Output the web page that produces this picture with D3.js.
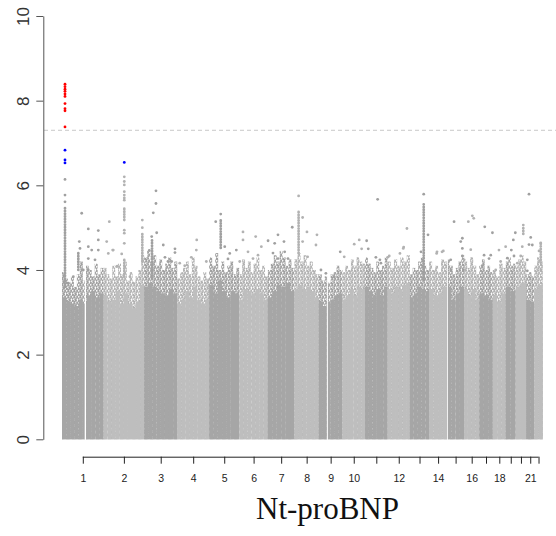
<!DOCTYPE html>
<html>
<head>
<meta charset="utf-8">
<script src="https://cdn.jsdelivr.net/npm/d3@7"></script>
<style>
  html, body { margin: 0; padding: 0; background: #fff; }
  svg { display: block; }
</style>
</head>
<body>
<svg id="chart" width="556" height="536"></svg>
<script>
// Chromosomes and their lengths (Mb, hg19)
const chromosomes = ["1","2","3","4","5","6","7","8","9","10","11","12","13","14","15","16","17","18","19","20","21","22"];
const chromLengthMb = [249.25, 243.2, 198.02, 191.15, 180.92, 171.12, 159.14, 146.36, 141.21, 135.53, 135.01, 133.85, 115.17, 107.35, 102.53, 90.35, 81.2, 78.08, 59.13, 63.03, 48.13, 51.3];
const tickLabels = ["1","2","3","4","5","6","7","8","9","10","","12","","14","","16","","18","","","21",""];
const yTicks = [0, 2, 4, 6, 8, 10];

// Upper edge of the solid bulk of SNPs, evenly spaced bins per chromosome (-log10 p)
const bulkTop = [
  [3.35, 3.25, 3.2, 3.15, 3.3, 3.2, 3.4, 3.5, 3.35, 3.45],
  [3.4, 3.25, 3.3, 3.5, 3.2, 3.45, 3.2, 3.1, 3.25, 3.65],
  [3.6, 3.7, 3.6, 3.5, 3.45, 3.4, 3.55, 3.45],
  [3.2, 3.3, 3.5, 3.35, 3.6, 3.3, 3.2, 3.3],
  [3.65, 3.45, 3.75, 3.5, 3.35, 3.5, 3.45],
  [3.3, 3.55, 3.5, 3.45, 3.55, 3.45, 3.3],
  [3.35, 3.5, 3.65, 3.6, 3.7, 3.5],
  [3.55, 3.65, 3.55, 3.6, 3.5, 3.35],
  [3.25, 3.15, 3.25, 3.3, 3.4, 3.45],
  [3.3, 3.4, 3.55, 3.4, 3.6, 3.55],
  [3.6, 3.5, 3.4, 3.55, 3.4, 3.6],
  [3.55, 3.45, 3.6, 3.55, 3.65, 3.7],
  [3.35, 3.45, 3.6, 3.55, 3.5],
  [3.55, 3.4, 3.45, 3.6],
  [3.6, 3.3, 3.45, 3.6],
  [3.55, 3.4, 3.55, 3.3],
  [3.45, 3.4, 3.3],
  [3.4, 3.25, 3.45],
  [3.6, 3.5],
  [3.6, 3.7],
  [3.3, 3.25],
  [3.55, 3.65]
];

// Upper edge of the looser cloud of SNPs above the bulk, finer bins per chromosome
const cloudTop = [
  [3.95, 3.8, 3.7, 3.85, 3.6, 3.9, 4.2, 3.75, 4.1, 4.0, 3.85, 4.15, 3.9, 4.05],
  [4.05, 3.9, 3.8, 4.1, 3.85, 4.15, 3.9, 4.2, 3.75, 3.95, 3.7, 3.85, 4.0, 4.35],
  [4.3, 4.45, 4.2, 4.35, 4.1, 4.25, 4.0, 4.15, 4.3, 4.05, 4.2],
  [3.8, 3.95, 4.05, 4.2, 3.9, 4.3, 4.1, 3.85, 3.75, 3.95, 3.8],
  [4.3, 4.1, 4.4, 4.0, 4.2, 3.95, 4.1, 4.2, 3.9, 4.05],
  [3.9, 4.25, 4.05, 4.2, 3.95, 4.15, 4.3, 4.0, 4.1, 3.85],
  [4.0, 4.15, 4.35, 4.2, 4.45, 4.3, 4.1, 4.25, 4.05],
  [4.25, 4.4, 4.2, 4.35, 4.1, 4.2, 4.0, 3.9],
  [3.9, 3.75, 3.85, 3.7, 3.9, 3.95, 4.1, 4.0],
  [3.95, 4.1, 4.0, 4.25, 4.1, 4.3, 4.2, 4.15],
  [4.3, 4.15, 4.05, 3.95, 4.2, 4.0, 4.1, 4.3],
  [4.2, 4.05, 4.25, 4.1, 4.3, 4.2, 4.35],
  [3.9, 4.05, 4.0, 4.2, 4.3, 4.1, 4.0],
  [4.2, 4.0, 4.1, 3.95, 4.25, 4.2],
  [4.25, 4.1, 3.9, 4.05, 4.2, 4.35],
  [4.2, 4.05, 4.3, 4.1, 3.9],
  [4.1, 4.25, 4.0, 4.1, 3.95],
  [4.0, 3.85, 4.15, 4.05],
  [4.2, 4.3, 4.1, 4.15],
  [4.1, 4.25, 4.35, 4.2],
  [3.9, 3.95, 3.85],
  [4.1, 4.3, 4.2]
];

// Regions without genotyped SNPs (chromosome, start Mb, end Mb)
const gapChr = ["1", "9", "15"];
const gapStartMb = [136, 48, 0];
const gapEndMb = [144, 54, 5];

// Densely packed vertical runs of SNPs at loci (chromosome, Mb, from, to)
const runChr = ["1", "1", "2", "2", "2", "3", "5", "8", "13", "20", "22"];
const runMb = [18, 97.7, 124, 124, 232, 47, 69.5, 25, 82.7, 45.5, 39];
const runFrom = [3.6, 4.0, 5.18, 3.84, 4.2, 3.8, 4.52, 4.4, 3.76, 4.85, 4.17];
const runTo = [5.5, 4.4, 5.46, 4.24, 4.85, 4.7, 5.18, 5.38, 5.55, 5.0, 4.64];

// Individual SNPs above the bulk
const snpChr = [
  "1","1","1","1","1","1","1","1","1","1","1","1","1","1","1","1",
  "1","1","1","1","1","1","1","1","1","1","1","1","1","1","1",
  "2","2","2","2","2","2","2","2","2","2","2",
  "2","2","2","2","2","2","2","2","2","2","2","2",
  "3","3","3","3","3","3","3","3","3","3","3","3",
  "4","4","4","4","4","4",
  "5","5","5","5","5","5",
  "6","6","6","6","6","6","6","6",
  "7","7","7","7","7","7","7","7","7",
  "8","8","8","8","8","8","8",
  "9","9","9","9",
  "10","10","10","10",
  "11","11","11","11","11","11",
  "12","12","12","12","12","12",
  "13","13","13",
  "14","14","14","14",
  "15","15","15","15","15","15","15","15",
  "16","16","16","16","16",
  "17","17","17","17","17","17",
  "18","18","18","18",
  "19","19","19","19","19",
  "20","20","20","20",
  "21","21","21","21","21","21",
  "22","22","22"
];
const snpMb = [
  18, 18, 18, 18, 18, 18, 18, 18, 18, 18, 18, 18, 18, 18, 18, 18,
  118, 157.6, 217.5, 103.7, 107.8, 217.5, 157.6, 178, 217.5, 197.7, 157.6, 127.6, 67.7, 37.7, 157.6,
  124, 124, 124, 124, 124, 124, 124, 124, 124, 124, 124,
  34.2, 18.6, 54.5, 82, 108.4, 28.2, 58, 78.5, 178, 158, 232, 232,
  70.7, 70.7, 54.5, 75, 45, 30.6, 114.4, 184.5, 142.6, 124.6, 164.5, 184.5,
  116.8, 114.4, 84.5, 44.9, 15, 174.4,
  39.5, 69.5, 93.5, 123.4, 163, 113,
  2.4, 22, 22, 98, 52, 82, 132, 112,
  1, 60.5, 40.7, 96.5, 146, 30.6, 100.6, 120.4, 60.5,
  25, 49, 75, 135, 129, 49, 79,
  12.6, 42, 92, 128,
  10.8, 70.7, 100.6, 115,
  9.6, 19.2, 75.5, 95, 89, 65,
  0.4, 116, 96.5, 10, 74, 94,
  82.7, 66.5, 108.4,
  47.3, 77.3, 45, 85,
  42, 22, 22, 91.7, 91.7, 91.7, 82, 97.5,
  25, 49, 57.5, 39.5, 0,
  33, 29, 18.6, 58.7, 79, 69,
  37, 47, 77, 17.4,
  9, 33, 45, 57, 49,
  45.5, 39.5, 30, 9.6,
  16.8, 27, 16.8, 36.5, 6.6, 6.6,
  39, 28.8, 39
];
const snpLogP = [
  8.39, 8.33, 8.27, 8.22, 8.16, 8.10, 7.93, 7.81, 7.76, 7.38, 6.83, 6.60, 6.53, 6.14, 5.77, 5.61,
  5.34, 4.97, 4.93, 4.67, 4.51, 4.71, 4.55, 4.47, 4.47, 4.24, 4.27, 4.0, 3.84, 3.69, 4.0,
  6.54, 6.2, 6.09, 6.01, 5.85, 5.77, 5.7, 5.65, 4.94, 4.87, 4.63,
  5.14, 4.67, 4.47, 4.09, 4.38, 4.39, 4.47, 4.08, 3.69, 3.84, 5.18, 5.0,
  5.87, 5.57, 5.35, 4.88, 4.79, 4.46, 4.59, 4.41, 4.2, 4.3, 4.2, 4.5,
  4.71, 4.47, 4.3, 4.1, 4.16, 4.2,
  5.14, 5.32, 4.55, 4.39, 4.47, 4.26,
  4.2, 4.9, 4.71, 4.79, 4.43, 4.27, 4.55, 4.35,
  4.69, 4.83, 4.63, 4.67, 5.01, 4.4, 4.43, 4.27, 4.27,
  5.75, 5.24, 4.9, 4.83, 4.59, 4.67, 4.31,
  4.0, 3.92, 3.84, 4.43,
  4.31, 4.61, 4.71, 4.5,
  4.69, 4.5, 5.67, 4.16, 4.24, 4.3,
  4.3, 4.98, 4.54, 4.33, 4.39, 4.51,
  5.79, 4.43, 4.83,
  4.43, 4.43, 4.39, 4.45,
  5.14, 4.24, 4.0, 4.75, 4.51, 4.33, 4.67, 4.0,
  5.14, 5.28, 5.22, 4.48, 4.24,
  5.02, 4.35, 4.1, 4.27, 4.88, 4.35,
  4.47, 4.2, 4.55, 4.0,
  4.28, 4.47, 4.71, 4.88, 4.33,
  5.06, 4.55, 4.33, 4.16,
  5.79, 4.77, 4.6, 4.59, 4.24, 3.98,
  4.64, 4.45, 4.0
];

const genomeWideLine = 7.3;   // -log10(5e-8)
const suggestiveLine = 6.3;
const title = "Nt-proBNP";

// alternating chromosome shades: bulk fill, and single-point fill
const chromColors = ["#a6a6a6", "#bebebe"];
const pointColors = ["#a0a0a0", "#b2b2b2"];

// ---- layout ----
const svg = d3.select("#chart");
const offsets = d3.cumsum([0].concat(chromLengthMb.slice(0, -1)));
const total = d3.sum(chromLengthMb);
const chrIndex = c => chromosomes.indexOf(c);
const gpos = (c, mb) => offsets[chrIndex(c)] + mb;

const x = d3.scaleLinear().domain([0, total]).range([62, 542.8]);
const y = d3.scaleLinear().domain([0, 10]).range([439.3, 16]);

// speckled fill for the looser SNP cloud: an irregular tile of point-sized dots
const speckle = [[1.0, 1.0, 1.25], [3.9, 0.6, 1.2], [5.3, 2.7, 1.25], [2.3, 3.2, 1.2],
                 [0.4, 4.7, 1.15], [3.5, 5.4, 1.2], [4.6, 4.3, 1.0], [2.6, 1.6, 0.9]];
const defs = svg.append("defs");
chromColors.forEach((col, k) => {
  const p = defs.append("pattern")
    .attr("id", "cloud" + k)
    .attr("patternUnits", "userSpaceOnUse")
    .attr("width", 6).attr("height", 6);
  p.selectAll("circle").data(speckle).join("circle")
    .attr("cx", d => d[0]).attr("cy", d => d[1]).attr("r", d => d[2])
    .attr("fill", pointColors[k]);
});

const plot = svg.append("g");

// cloud, then solid bulk, per chromosome
chromosomes.forEach((c, i) => {
  const k = i % 2;
  [[cloudTop[i], "url(#cloud" + k + ")"], [bulkTop[i], chromColors[k]]].forEach(([bins, fill]) => {
    const w = chromLengthMb[i] / bins.length;
    plot.append("g").selectAll("rect").data(bins).join("rect")
      .attr("x", (d, j) => x(offsets[i] + j * w))
      .attr("width", (d, j) => x(offsets[i] + (j + 1) * w) - x(offsets[i] + j * w))
      .attr("y", d => y(d))
      .attr("height", d => y(0) - y(d))
      .attr("fill", fill);
  });
});

// gaps
plot.append("g").selectAll("rect").data(gapChr).join("rect")
  .attr("x", (c, k) => x(gpos(c, gapStartMb[k])))
  .attr("width", (c, k) => x(gpos(c, gapEndMb[k])) - x(gpos(c, gapStartMb[k])))
  .attr("y", y(10)).attr("height", y(0) - y(10) + 1)
  .attr("fill", "#fff");

// vertical runs, drawn as stacked dots
plot.append("g").selectAll("line").data(runChr).join("line")
  .attr("x1", (c, k) => x(gpos(c, runMb[k])))
  .attr("x2", (c, k) => x(gpos(c, runMb[k])))
  .attr("y1", (c, k) => y(runFrom[k]))
  .attr("y2", (c, k) => y(runTo[k]))
  .attr("stroke", c => pointColors[chrIndex(c) % 2])
  .attr("stroke-width", 2.7)
  .attr("stroke-dasharray", "0.6,2.1")
  .attr("stroke-linecap", "round");

// individual SNPs
const snpColor = (c, p) => p > genomeWideLine ? "#ff0000" : p > suggestiveLine ? "#0000ff"
  : pointColors[chrIndex(c) % 2];
plot.append("g").selectAll("circle").data(snpChr).join("circle")
  .attr("cx", (c, k) => x(gpos(c, snpMb[k])))
  .attr("cy", (c, k) => y(snpLogP[k]))
  .attr("r", 1.4)
  .attr("fill", (c, k) => snpColor(c, snpLogP[k]));

// genome-wide significance line
svg.append("line")
  .attr("x1", 44).attr("x2", 556)
  .attr("y1", y(genomeWideLine)).attr("y2", y(genomeWideLine))
  .attr("stroke", "#c8c8c8").attr("stroke-width", 1)
  .attr("stroke-dasharray", "4,3");

// y axis
const yAxis = svg.append("g").attr("transform", "translate(43.3,0)")
  .call(d3.axisLeft(y).tickValues(yTicks).tickSize(7).tickSizeOuter(0).tickFormat(d3.format("d")));
yAxis.select(".domain").attr("stroke", "#555");
yAxis.selectAll(".tick line").attr("stroke", "#555");
yAxis.selectAll(".tick text")
  .attr("x", null).attr("dy", null)
  .attr("transform", "translate(-14.8,0) rotate(-90)")
  .attr("text-anchor", "middle")
  .attr("fill", "#333")
  .style("font-family", "'Liberation Sans', Arial, sans-serif")
  .style("font-size", "17px");

// x axis at chromosome midpoints
const mids = chromosomes.map((c, i) => offsets[i] + chromLengthMb[i] / 2);
const xAxis = svg.append("g").attr("transform", "translate(0,456.7)")
  .call(d3.axisBottom(x).tickValues(mids).tickSize(7).tickSizeOuter(0)
    .tickFormat((d, i) => tickLabels[i]));
xAxis.select(".domain").remove();
xAxis.append("line")
  .attr("x1", x(mids[0])).attr("x2", x(mids[mids.length - 1]))
  .attr("y1", 0.5).attr("y2", 0.5)
  .attr("stroke", "#222");
xAxis.selectAll(".tick line").attr("stroke", "#222");
xAxis.selectAll(".tick text")
  .attr("y", 25.5).attr("dy", null)
  .attr("fill", "#222")
  .style("font-family", "'Liberation Sans', Arial, sans-serif")
  .style("font-size", "10.5px");

// title
svg.append("text")
  .attr("x", 327.5).attr("y", 519)
  .attr("text-anchor", "middle")
  .style("font-family", "'Liberation Serif', 'Times New Roman', serif")
  .style("font-size", "31px")
  .attr("fill", "#111")
  .text(title);
</script>
</body>
</html>
